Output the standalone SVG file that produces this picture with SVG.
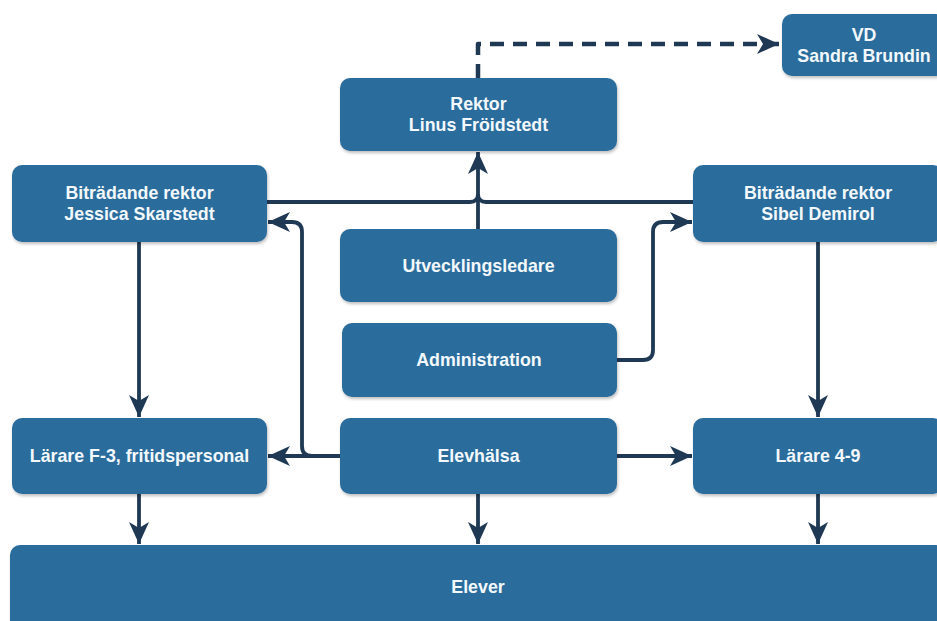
<svg xmlns="http://www.w3.org/2000/svg" width="937" height="621" viewBox="0 0 937 621">
  <defs>
    <style>
      .box { fill: #2c6d9d; }
      .lbl { font-family: "Liberation Sans", Arial, sans-serif; font-weight: bold; font-size: 17.8px; fill: #f3f8fc; text-anchor: middle; }
      .conn { fill: none; stroke: #1f3854; stroke-width: 3.8; stroke-linejoin: round; }
      .dash { stroke-dasharray: 14 9; stroke-width: 4.5; }
    </style>
    <filter id="sh" x="-10%" y="-10%" width="120%" height="130%">
      <feDropShadow dx="1" dy="2" stdDeviation="1.5" flood-color="#000" flood-opacity="0.25"/>
    </filter>
    <marker id="arr" markerUnits="userSpaceOnUse" markerWidth="24" markerHeight="22" refX="22" refY="11" orient="auto">
      <path d="M0,1 L22,11 L0,21 L6,11 Z" fill="#1f3854"/>
    </marker>
  </defs>

  <g id="connectors">
    <path class="conn dash" d="M478,78 V44 H779" marker-end="url(#arr)"/>
    <path class="conn" d="M267,202 H470 Q478,202 478,194"/>
    <path class="conn" d="M693,202 H486 Q478,202 478,194"/>
    <path class="conn" d="M478,229 V152" marker-end="url(#arr)"/>
    <path class="conn" d="M340,456 H312 Q302,456 302,446 V232 Q302,222 292,222 H268" marker-end="url(#arr)"/>
    <path class="conn" d="M340,456 H268" marker-end="url(#arr)"/>
    <path class="conn" d="M616,360 H643 Q653,360 653,350 V232 Q653,222 663,222 H692" marker-end="url(#arr)"/>
    <path class="conn" d="M616,456 H692" marker-end="url(#arr)"/>
    <path class="conn" d="M139,242 V417" marker-end="url(#arr)"/>
    <path class="conn" d="M818,242 V417" marker-end="url(#arr)"/>
    <path class="conn" d="M139,494 V544" marker-end="url(#arr)"/>
    <path class="conn" d="M478,494 V544" marker-end="url(#arr)"/>
    <path class="conn" d="M818,494 V544" marker-end="url(#arr)"/>
  </g>

  <g id="vd">
    <rect class="box" filter="url(#sh)" x="782" y="14" width="164" height="62" rx="10"/>
    <text class="lbl" x="864" y="41">VD</text>
    <text class="lbl" x="864" y="62">Sandra Brundin</text>
  </g>
  <g id="rektor">
    <rect class="box" filter="url(#sh)" x="340" y="78" width="277" height="73" rx="10"/>
    <text class="lbl" x="478.5" y="110">Rektor</text>
    <text class="lbl" x="478.5" y="131">Linus Fröidstedt</text>
  </g>
  <g id="bitr-jessica">
    <rect class="box" filter="url(#sh)" x="12" y="165" width="255" height="77" rx="10"/>
    <text class="lbl" x="139.5" y="199">Biträdande rektor</text>
    <text class="lbl" x="139.5" y="220">Jessica Skarstedt</text>
  </g>
  <g id="bitr-sibel">
    <rect class="box" filter="url(#sh)" x="693" y="165" width="250" height="77" rx="10"/>
    <text class="lbl" x="818" y="199">Biträdande rektor</text>
    <text class="lbl" x="818" y="220">Sibel Demirol</text>
  </g>
  <g id="utvecklingsledare">
    <rect class="box" filter="url(#sh)" x="340" y="229" width="277" height="73" rx="10"/>
    <text class="lbl" x="478.5" y="272">Utvecklingsledare</text>
  </g>
  <g id="administration">
    <rect class="box" filter="url(#sh)" x="342" y="323" width="275" height="74" rx="10"/>
    <text class="lbl" x="479" y="366">Administration</text>
  </g>
  <g id="larare-f3">
    <rect class="box" filter="url(#sh)" x="12" y="418" width="255" height="76" rx="10"/>
    <text class="lbl" x="139.5" y="462">Lärare F-3, fritidspersonal</text>
  </g>
  <g id="elevhalsa">
    <rect class="box" filter="url(#sh)" x="340" y="418" width="277" height="76" rx="10"/>
    <text class="lbl" x="478.5" y="462">Elevhälsa</text>
  </g>
  <g id="larare-49">
    <rect class="box" filter="url(#sh)" x="693" y="418" width="250" height="76" rx="10"/>
    <text class="lbl" x="818" y="462">Lärare 4-9</text>
  </g>
  <g id="elever">
    <rect class="box" filter="url(#sh)" x="10" y="545" width="936" height="90" rx="10"/>
    <text class="lbl" x="478" y="593">Elever</text>
  </g>
</svg>
